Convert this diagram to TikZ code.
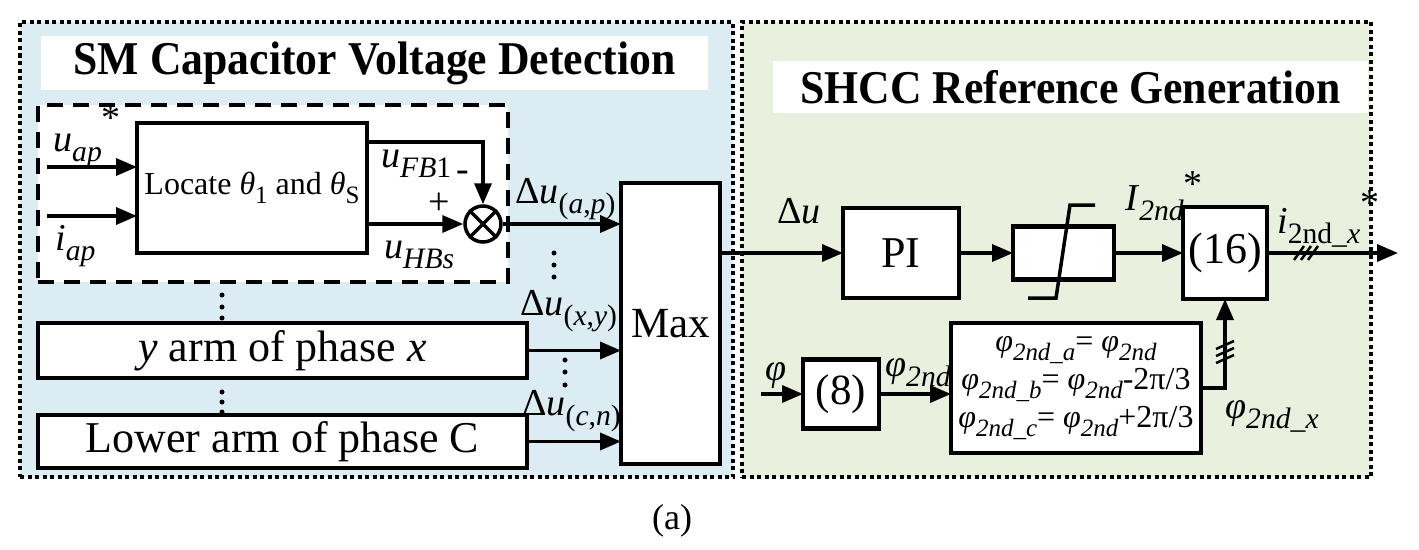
\documentclass[tikz,border=0pt]{standalone}
\usepackage{fontspec}
\setmainfont{Liberation Serif}
\usepackage{graphicx}
\usepackage{tikz}
\usetikzlibrary{arrows.meta,positioning}

\definecolor{panelblue}{RGB}{219,237,243}
\definecolor{panelgreen}{RGB}{233,240,222}

\newcommand\fsz[1]{\fontsize{#1}{#1}\selectfont}
\newcommand\lowr[1]{\raisebox{-0.28em}{\scalebox{0.78}{#1}}}
\newcommand\starup[1]{\raisebox{#1}{*}}

\begin{document}
\begin{tikzpicture}[x=1pt, y=-1pt, >={Triangle[length=21pt,width=17pt]},
    panel/.style={rectangle, draw, line width=3.5pt, dash pattern=on 4pt off 3.5pt, minimum height=455pt, inner sep=0pt},
    ttlbox/.style={rectangle, fill=white, inner sep=0pt, font=\fsz{47}\bfseries},
    grpbox/.style={rectangle, draw, fill=white, line width=4pt, dash pattern=on 16pt off 10pt, inner sep=0pt},
    blk/.style={rectangle, draw, fill=white, line width=4.5pt, inner sep=2pt, outer sep=0pt},
    lbl/.style={font=\fsz{38}, inner sep=0pt, anchor=base west},
    wire/.style={line width=3.5pt}]
    \useasboundingbox (0,0) rectangle (1419,549);

    % two panels
    \node (detpanel) [panel, fill=panelblue, minimum width=713pt] at (376.5,249.5) {};
    \node (refpanel) [panel, fill=panelgreen, minimum width=629pt] at (1056.5,249.5) {};
    \node (dettitle) [ttlbox, minimum width=667pt, minimum height=54pt] at (374.5,63) {\scalebox{0.93}[1]{SM Capacitor Voltage Detection}};
    \node (reftitle) [ttlbox, minimum width=595pt, minimum height=52pt] at (1070.5,87) {\scalebox{0.93}[1]{SHCC Reference Generation}};

    % upper arm of phase a
    \node (grp) [grpbox, minimum width=470pt, minimum height=177pt] at (273,193.5) {};
    \node (locate) [blk, minimum width=230pt, minimum height=130pt, font=\fsz{32}] at (252,188) {Locate \textit{θ}\lowr{1} and \textit{θ}\lowr{S}};
    \node (sum) [circle, draw, fill=white, line width=3.5pt, minimum size=36pt, inner sep=0pt] at (483,224) {};
    \draw[line width=3.5pt] (sum.north west) -- (sum.south east) (sum.north east) -- (sum.south west);

    \coordinate (uin) at (47,167);
    \coordinate (iin) at (47,216);
    \draw[wire,->] (uin) -- (uin -| locate.west);
    \draw[wire,->] (iin) -- (iin -| locate.west);
    \node (ulbl) [lbl] at (53,151) {\textit{u}\lowr{\textit{ap}}\starup{0.55em}};
    \node (ilbl) [lbl] at (55,250) {\textit{i}\lowr{\textit{ap}}};

    \draw[wire,->] ([yshift=46pt]locate.east) -| (sum.north);
    \draw[wire,->] ([yshift=-36pt]locate.east) -- (sum.west);
    \node (fblbl) [lbl] at (381,167) {\textit{u}\lowr{\textit{FB}1}};
    \node (minus) [lbl] at (456,181) {-};
    \node (plus) [lbl] at (428,214) {+};
    \node (hblbl) [lbl] at (384,258) {\textit{u}\lowr{\textit{HBs}}};

    % other arms
    \node (yarm) [blk, minimum width=489pt, minimum height=55pt, font=\fsz{44}] at (282.5,350.5) {\textit{y} arm of phase \textit{x}};
    \node (lowarm) [blk, minimum width=489pt, minimum height=53pt, font=\fsz{44}] at (282.5,441.5) {Lower arm of phase C};
    \node (maxb) [blk, minimum width=99pt, minimum height=281pt, font=\fsz{43}] at (670.5,323.5) {Max};

    \draw[wire,->] (sum.east) -- (sum.east -| maxb.west);
    \draw[wire,->] (yarm.east) -- (yarm.east -| maxb.west);
    \draw[wire,->] (lowarm.east) -- (lowarm.east -| maxb.west);
    \node (dap) [lbl] at (515,203) {Δ\textit{u}\lowr{(\textit{a},\textit{p})}};
    \node (dxy) [lbl] at (520,315) {Δ\textit{u}\lowr{(\textit{x},\textit{y})}};
    \node (dcn) [lbl] at (522,415) {Δ\textit{u}\lowr{(\textit{c},\textit{n})}};

    \fill (222,295) circle[radius=2.5pt] (222,307) circle[radius=2.5pt] (222,318) circle[radius=2.5pt];
    \fill (222,392) circle[radius=2.5pt] (222,402) circle[radius=2.5pt] (222,412) circle[radius=2.5pt];
    \fill (554,253) circle[radius=2.5pt] (554,265) circle[radius=2.5pt] (554,277) circle[radius=2.5pt];
    \fill (565,360) circle[radius=2.5pt] (565,372) circle[radius=2.5pt] (565,385) circle[radius=2.5pt];

    % reference generation
    \node (pi) [blk, minimum width=116pt, minimum height=90pt, font=\fsz{44}] at (901,253) {PI};
    \node (sat) [blk, minimum width=101pt, minimum height=53pt, right=54pt of pi] {};
    \node (eq16) [blk, minimum width=84pt, minimum height=92pt, right=69pt of sat, font=\fsz{44}] {(16)};
    \coordinate (xout) at (1398,253);

    \draw[wire,->] (pi.west -| maxb.east) -- (pi.west);
    \draw[wire,->] (pi) -- (sat);
    \draw[wire,->] (sat) -- (eq16);
    \draw[wire,->] (eq16) -- (xout);
    \draw[wire] ([shift={(-35.5,45)}]sat.center) -- ++(28,0) -- ++(14,-93) -- ++(25,0);
    \draw[line width=2.5pt] (1294,260) -- (1304,246);
    \draw[line width=2.5pt] (1301,260) -- (1311,246);
    \draw[line width=2.5pt] (1308,260) -- (1318,246);
    \node (du) [lbl] at (777,223) {Δ\textit{u}};
    \node (ilim) [lbl] at (1125,210) {\textit{I}\lowr{\textit{2nd}}\starup{0.35em}};
    \node (iref) [lbl] at (1277,233) {\textit{i}\lowr{2nd\_\textit{x}}\starup{0.45em}};

    \node (eq8) [blk, minimum width=76pt, minimum height=69pt, font=\fsz{43}] at (841,394) {(8)};
    \node (phase) [blk, minimum width=250pt, minimum height=130pt, align=center, font={\fontsize{32}{38}\selectfont}] at (1076,388)
        {\textit{φ}\lowr{\textit{2nd\_a}}= \textit{φ}\lowr{\textit{2nd}}\\
         \textit{φ}\lowr{\textit{2nd\_b}}= \textit{φ}\lowr{\textit{2nd}}-2π/3\\
         \textit{φ}\lowr{\textit{2nd\_c}}= \textit{φ}\lowr{\textit{2nd}}+2π/3};
    \coordinate (phin) at (761,394);

    \draw[wire,->] (phin) -- (eq8);
    \draw[wire,->] (eq8) -- (eq8 -| phase.west);
    \draw[wire,->] (phase.east) -| (eq16.south);
    \draw[line width=2.5pt] (1216,349) -- (1234,341);
    \draw[line width=2.5pt] (1216,356) -- (1234,348);
    \draw[line width=2.5pt] (1216,363) -- (1234,355);
    \node (phlbl) [lbl] at (765,380) {\textit{φ}};
    \node (ph2) [lbl] at (885,376) {\textit{φ}\lowr{\textit{2nd}}};
    \node (phx) [lbl] at (1225,418) {\textit{φ}\lowr{\textit{2nd\_x}}};

    \node (cap) [font=\fsz{36}] at (672,521) {(a)};
\end{tikzpicture}
\end{document}
